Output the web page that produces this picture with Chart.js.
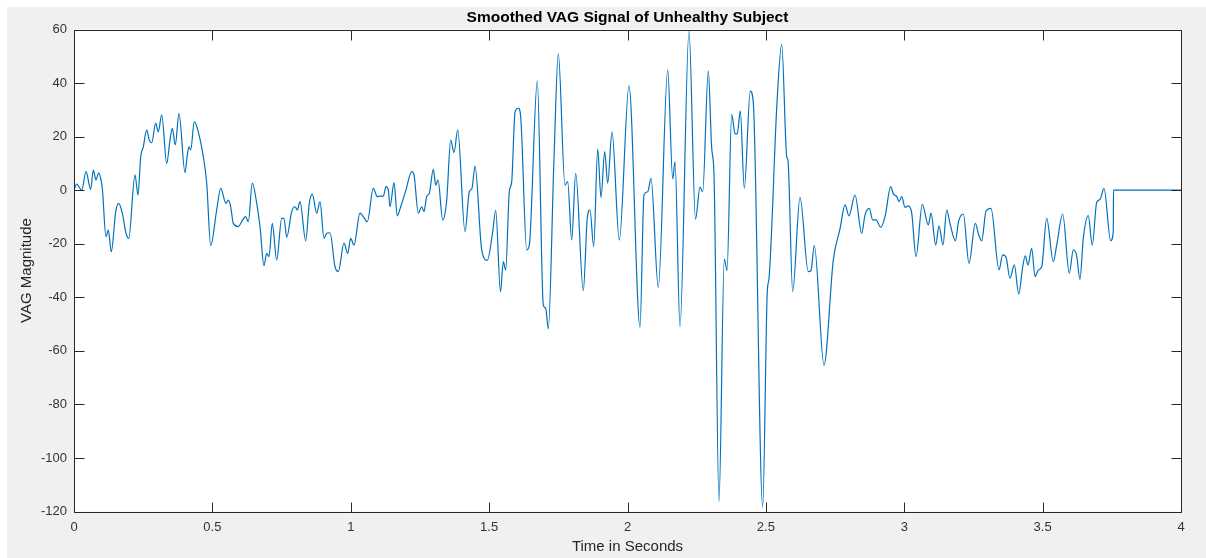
<!DOCTYPE html>
<html>
<head>
<meta charset="utf-8">
<script src="https://cdn.jsdelivr.net/npm/chart.js@4"></script>
<style>
  html, body { margin: 0; padding: 0; background: #fff; }
  canvas { display: block; }
</style>
</head>
<body>
<canvas id="vagChart" width="1206" height="558"></canvas>
<script>
// values
const timeSec = [
  0, 0.0098, 0.0192, 0.0278, 0.0434, 0.0603, 0.0697, 0.0795, 0.0893, 0.0965,
  0.1023, 0.1156, 0.1239, 0.1348, 0.1507, 0.1615, 0.176, 0.1879, 0.1977, 0.2204,
  0.2313, 0.241, 0.2504, 0.2627, 0.2721, 0.2808, 0.2952, 0.3046, 0.3169, 0.335,
  0.3469, 0.3552, 0.366, 0.3794, 0.4011, 0.4094, 0.4155, 0.4217, 0.4347, 0.4491,
  0.4672, 0.4795, 0.494, 0.5156, 0.5301, 0.5492, 0.5575, 0.5662, 0.5756, 0.5937,
  0.6096, 0.6204, 0.6298, 0.6443, 0.6602, 0.6721, 0.6865, 0.6963, 0.7046, 0.7165,
  0.7324, 0.7505, 0.7588, 0.7686, 0.7866, 0.7986, 0.8069, 0.8166, 0.8372, 0.8502,
  0.8611, 0.877, 0.8889, 0.9033, 0.9131, 0.925, 0.9431, 0.955, 0.9756, 0.989,
  0.9998, 1.0117, 1.0334, 1.0453, 1.0598, 1.0815, 1.0959, 1.1057, 1.1176, 1.1274,
  1.1357, 1.1418, 1.1563, 1.1682, 1.1805, 1.1996, 1.2202, 1.2285, 1.2441, 1.2564,
  1.2647, 1.2744, 1.2838, 1.2983, 1.307, 1.3153, 1.3323, 1.3467, 1.3612, 1.3731,
  1.3865, 1.4128, 1.4284, 1.4381, 1.449, 1.4732, 1.4934, 1.5122, 1.5238, 1.5411,
  1.5512, 1.5599, 1.5729, 1.5816, 1.5935, 1.6054, 1.6141, 1.6358, 1.6452, 1.6741,
  1.6958, 1.7044, 1.7138, 1.7344, 1.75, 1.7742, 1.7839, 1.7984, 1.8128, 1.8403,
  1.8547, 1.8645, 1.8779, 1.8923, 1.9043, 1.9176, 1.9285, 1.944, 1.9704, 2.0054,
  2.0452, 2.0596, 2.073, 2.0849, 2.1113, 2.1453, 2.1634, 2.1717, 2.1897, 2.2222,
  2.2457, 2.262, 2.2717, 2.292, 2.3043, 2.3126, 2.3306, 2.3498, 2.3596, 2.3765,
  2.3883, 2.3967, 2.4075, 2.422, 2.4437, 2.4545, 2.4885, 2.5051, 2.5113, 2.5402,
  2.5572, 2.5753, 2.58, 2.5969, 2.6233, 2.6533, 2.663, 2.675, 2.71, 2.7436,
  2.7678, 2.786, 2.8003, 2.822, 2.8463, 2.8582, 2.8737, 2.8859, 2.898, 2.915,
  2.9306, 2.9512, 2.9606, 2.9728, 2.9811, 2.9908, 3.0027, 3.0146, 3.027, 3.0425,
  3.0652, 3.087, 3.0967, 3.1137, 3.1256, 3.14, 3.1534, 3.1653, 3.1845, 3.1968,
  3.2134, 3.234, 3.2568, 3.269, 3.2799, 3.2954, 3.3135, 3.3424, 3.3557, 3.3677,
  3.382, 3.3977, 3.4136, 3.428, 3.4374, 3.4472, 3.4605, 3.4725, 3.4844, 3.4967,
  3.5147, 3.5386, 3.5509, 3.5725, 3.5964, 3.6109, 3.623, 3.635, 3.6469, 3.665,
  3.6794, 3.6954, 3.7073, 3.7218, 3.7459, 3.7553, 3.756, 4
];

const vagValues = [
  0, 2.3, 1, 0, 6.9, 0.3, 7.5, 3.8, 6.5, 4.4,
  0.7, -17.4, -14.9, -23, -8, -4.9, -9.3, -16.1, -18, 5.7,
  -1.8, 12.5, 16.2, 22.5, 18.7, 17.7, 25, 21.8, 28.1, 10,
  18.7, 23.1, 16.9, 28.7, 6.5, 13.1, 16.2, 15, 25.6, 21.8,
  12.5, 2.6, -20.7, -7.4, 0.7, -4.9, -3.7, -6.2, -12.4, -13.6,
  -11.1, -9.9, -11.8, 2.6, -4.9, -13.6, -28.2, -23.6, -24.8, -12.4,
  -26.1, -10.5, -10.5, -17.6, -8, -6.2, -7.4, -4.3, -18.9, -4.9,
  -1.5, -8.6, -4.3, -18, -16.1, -15.9, -28.6, -30.4, -19.8, -23.6,
  -18, -20.5, -8.6, -9.9, -11.8, 0.7, -2.4, -2.2, -2.2, 1.3,
  0.1, -6.2, 2.8, -9.6, -6.2, 0.1, 6.9, 5.7, -8.6, -6.2,
  -8, -2.4, -1.2, 7.8, 1.9, 3.8, -11.1, -3.7, 18.7, 14,
  22.5, -15.5, -0.6, 0.7, 9, -22.3, -26.2, -16.1, -7.5, -38,
  -26.7, -29.8, -0.6, 3.2, 29.1, 30.6, 27.4, -22.3, -20.5, 40.8,
  -42.9, -44.1, -51.8, 11.9, 50.9, 1.9, 3.2, -18.6, 6.3, -37.5,
  -10.5, -7.4, -21.1, 15.3, -2.7, 14.4, 2.6, 21.8, -18.6, 39,
  -51.2, -1.8, -0.6, 4.4, -36.3, 44.9, 4.2, 10.6, -51, 59.5,
  -10.8, 1.1, -0.6, 44.6, 15.6, 5.7, -116.3, -25.7, -30, 28.3,
  21.2, 21, 29.6, 0.7, 37, 32.8, -118.2, -37.9, -33, 32.8,
  54.5, 12.5, 11, -37.9, -2.7, -30.4, -30, -20.7, -65.3, -26.1,
  -14.5, -5.5, -9.6, -1.8, -16.1, -9.3, -6.8, -11.1, -11.1, -13.9,
  -9.9, 1.3, -1.4, -2.4, -4.3, -2.4, -6.4, -5.9, -8.6, -24.8,
  -5.3, -13, -8.6, -20.5, -13.3, -20.5, -7.4, -12.4, -18.9, -11.5,
  -8.9, -27.3, -12.4, -16.7, -18.9, -7.8, -6.8, -29.8, -24.2, -25,
  -32.9, -27.9, -38.8, -28.6, -24.5, -28, -21.7, -32.3, -29.8, -28.6,
  -10.5, -26.7, -20.5, -8.9, -31, -22.3, -24.5, -33.3, -18, -9.5,
  -20.5, -4.5, -3.5, 0.7, -18.9, -15.5, 0, 0
];

const xTicks = [0, 0.5, 1, 1.5, 2, 2.5, 3, 3.5, 4];
const yTicks = [-120, -100, -80, -60, -40, -20, 0, 20, 40, 60];

const points = timeSec.map((t, i) => ({ x: t, y: vagValues[i] }));

// grey figure background, white axes, box and inward ticks like matlab
const matlabAxes = {
  id: 'matlabAxes',
  beforeDraw(chart) {
    const { ctx, chartArea: a } = chart;
    ctx.save();
    ctx.fillStyle = '#ffffff';
    ctx.fillRect(0, 0, chart.width, chart.height);
    ctx.fillStyle = '#f0f0f0';
    ctx.fillRect(7, 7, chart.width - 7, chart.height - 7);
    ctx.fillStyle = '#ffffff';
    ctx.fillRect(a.left, a.top, a.right - a.left, a.bottom - a.top);
    ctx.restore();
  },
  afterDraw(chart) {
    const { ctx, chartArea: a, scales } = chart;
    const L = Math.round(a.left) + 0.5, R = Math.round(a.right) + 0.5;
    const T = Math.round(a.top) + 0.5, B = Math.round(a.bottom) + 0.5;
    const tick = 10;
    ctx.save();
    ctx.strokeStyle = '#262626';
    ctx.lineWidth = 1;
    ctx.beginPath();
    ctx.rect(L, T, R - L, B - T);
    xTicks.forEach(v => {
      const px = Math.round(scales.x.getPixelForValue(v)) + 0.5;
      ctx.moveTo(px, B); ctx.lineTo(px, B - tick);
      ctx.moveTo(px, T); ctx.lineTo(px, T + tick);
    });
    yTicks.forEach(v => {
      const py = Math.round(scales.y.getPixelForValue(v)) + 0.5;
      ctx.moveTo(L, py); ctx.lineTo(L + tick, py);
      ctx.moveTo(R, py); ctx.lineTo(R - tick, py);
    });
    ctx.stroke();
    ctx.restore();
  }
};

const ctx = document.getElementById('vagChart').getContext('2d');
new Chart(ctx, {
  type: 'line',
  data: {
    datasets: [{
      data: points,
      borderColor: '#0072BD',
      borderWidth: 1.2,
      pointRadius: 0,
      fill: false,
      cubicInterpolationMode: 'monotone'
    }]
  },
  options: {
    responsive: false,
    animation: false,
    devicePixelRatio: 1,
    layout: { padding: { left: 0, right: 25, top: 0, bottom: 0 } },
    plugins: {
      legend: { display: false },
      tooltip: { enabled: false },
      title: {
        display: true,
        fullSize: false,
        text: 'Smoothed VAG Signal of Unhealthy Subject',
        color: '#000000',
        font: { family: 'Liberation Sans, Arial, sans-serif', size: 15.5, weight: 'bold' },
        padding: { top: 8, bottom: 2.9 }
      }
    },
    scales: {
      x: {
        type: 'linear',
        min: 0,
        max: 4,
        afterFit(scale) { scale.height = 46.5; },
        afterBuildTicks(scale) { scale.ticks = xTicks.map(v => ({ value: v })); },
        grid: { display: false, drawTicks: false },
        border: { display: false },
        ticks: {
          color: '#333333',
          padding: 8,
          maxRotation: 0,
          autoSkip: false,
          callback: v => String(v),
          font: { family: 'Liberation Sans, Arial, sans-serif', size: 13 }
        },
        title: {
          display: true,
          text: 'Time in Seconds',
          color: '#262626',
          padding: { top: 0, bottom: 2 },
          font: { family: 'Liberation Sans, Arial, sans-serif', size: 15 }
        }
      },
      y: {
        min: -120,
        max: 60,
        afterFit(scale) { scale.width = 74; },
        afterBuildTicks(scale) { scale.ticks = yTicks.map(v => ({ value: v })); },
        grid: { display: false, drawTicks: false },
        border: { display: false },
        ticks: {
          color: '#333333',
          padding: 7,
          autoSkip: false,
          callback: v => String(v),
          font: { family: 'Liberation Sans, Arial, sans-serif', size: 13 }
        },
        title: {
          display: true,
          text: 'VAG Magnitude',
          color: '#262626',
          padding: { top: 18, bottom: 0 },
          font: { family: 'Liberation Sans, Arial, sans-serif', size: 15 }
        }
      }
    }
  },
  plugins: [matlabAxes]
});
</script>
</body>
</html>
